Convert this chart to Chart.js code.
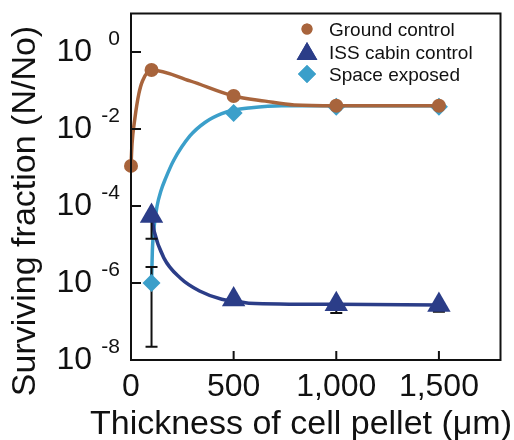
<!DOCTYPE html>
<html>
<head>
<meta charset="utf-8">
<script src="https://cdn.jsdelivr.net/npm/chart.js@4.4.1/dist/chart.umd.min.js"></script>
<style>
  html, body { margin: 0; padding: 0; background: #fff; }
  #wrap { width: 514px; height: 440px; }
</style>
</head>
<body>
<div id="wrap"><canvas id="survivalChart" width="514" height="440"></canvas></div>
<script>
// measured points
const groundX = [0, 100, 500, 1000, 1500];
const groundY = [1.1e-3, 0.34, 0.072, 0.04, 0.04];
const issX = [100, 500, 1000, 1500];
const issY = [5.5e-5, 3.7e-7, 2.8e-7, 2.7e-7];
const issErrLow = [1.4e-5, null, 1.66e-7, 1.8e-7];
const spaceX = [100, 500, 1000, 1500];
const spaceY = [1.0e-6, 0.026, 0.038, 0.038];
const spaceErrLow = [2.2e-8, null, null, null];
const spaceErrHigh = [2.6e-6, null, null, null];

// fitted curves
const groundFitX = [0, 5, 19, 38, 56, 100, 287, 500, 654, 795, 1000, 1500];
const groundFitY = [1.1e-3, 4.1e-3, 0.019, 0.081, 0.177, 0.34, 0.177, 0.072, 0.053, 0.042, 0.04, 0.04];
const issFitX = [100, 113, 160, 240, 334, 442, 513, 574, 1000, 1500];
const issFitY = [5.5e-5, 2.2e-5, 4.5e-6, 1.35e-6, 6.2e-7, 3.8e-7, 3.4e-7, 3.0e-7, 2.8e-7, 2.7e-7];
const spaceFitX = [100, 104, 113, 127, 146, 169, 207, 287, 362, 442, 503, 574, 734, 1000, 1500];
const spaceFitY = [1.0e-6, 6.8e-6, 3.0e-5, 1.0e-4, 2.5e-4, 5.3e-4, 1.5e-3, 6.6e-3, 0.015, 0.025, 0.031, 0.035, 0.04, 0.04, 0.04];

const xTicks = [0, 500, 1000, 1500];
const xTickLabels = ['0', '500', '1,000', '1,500'];
const yTicks = [1e-8, 1e-6, 1e-4, 1e-2, 1];
const yTickExps = ['-8', '-6', '-4', '-2', '0'];

const FONT = "'Liberation Sans', Arial, Helvetica, sans-serif";
const BROWN = '#a8643c';
const NAVY = '#2b3d88';
const CYAN = '#3b9fca';
const INK = '#111';

function pts(xs, ys) {
    return xs.map((x, i) => ({ x: x, y: ys[i] }));
}

function noPad(s) {
    s.paddingTop = 0; s.paddingBottom = 0;
    s.paddingLeft = 0; s.paddingRight = 0;
}

// error bars, axis frame, inward ticks, exponents, titles and legend
const decor = {
    id: 'decor',
    afterDatasetDraw(chart, args) {
        if (chart.data.datasets[args.index].label !== 'ISS fit') return;
        const ctx = chart.ctx, xs = chart.scales.x, ys = chart.scales.y;
        ctx.save();
        ctx.strokeStyle = INK;
        ctx.lineWidth = 2;
        function bar(xv, yv, lo, hi) {
            const px = xs.getPixelForValue(xv);
            const py = ys.getPixelForValue(yv);
            [lo, hi].forEach(v => {
                if (v == null) return;
                const e = ys.getPixelForValue(v);
                ctx.beginPath();
                ctx.moveTo(px, py); ctx.lineTo(px, e);
                ctx.moveTo(px - 6, e); ctx.lineTo(px + 6, e);
                ctx.stroke();
            });
        }
        issX.forEach((x, i) => bar(x, issY[i], issErrLow[i], null));
        spaceX.forEach((x, i) => bar(x, spaceY[i], spaceErrLow[i], spaceErrHigh[i]));
        ctx.restore();
    },
    afterDraw(chart) {
        const ctx = chart.ctx, a = chart.chartArea;
        const xs = chart.scales.x, ys = chart.scales.y;
        ctx.save();
        ctx.strokeStyle = INK;
        ctx.lineWidth = 2;
        ctx.strokeRect(a.left, a.top, a.right - a.left, a.bottom - a.top);
        ctx.beginPath();
        yTicks.forEach(v => {
            const p = ys.getPixelForValue(v);
            ctx.moveTo(a.left, p); ctx.lineTo(a.left + 10, p);
        });
        xTicks.forEach(v => {
            const p = xs.getPixelForValue(v);
            ctx.moveTo(p, a.bottom); ctx.lineTo(p, a.bottom - 9);
        });
        ctx.stroke();

        // exponents of the 10^n labels
        ctx.fillStyle = INK;
        ctx.font = '21px ' + FONT;
        ctx.textAlign = 'right';
        ctx.textBaseline = 'middle';
        yTicks.forEach((v, i) => {
            ctx.fillText(yTickExps[i], 120, ys.getPixelForValue(v) - 12.5);
        });

        // axis titles
        ctx.font = '34px ' + FONT;
        ctx.textBaseline = 'alphabetic';
        ctx.textAlign = 'right';
        ctx.fillText('Thickness of cell pellet (\u03bcm)', 512, 434);
        ctx.save();
        ctx.translate(35, 211);
        ctx.rotate(-Math.PI / 2);
        ctx.textAlign = 'center';
        ctx.fillText('Surviving fraction (N/No)', 0, 0);
        ctx.restore();

        // legend
        const items = [
            { text: 'Ground control', style: 'circle', r: 5.5, color: BROWN, y: 29 },
            { text: 'ISS cabin control', style: 'triangle', r: 12, color: NAVY, y: 54 },
            { text: 'Space exposed', style: 'rectRot', r: 9, color: CYAN, y: 74 }
        ];
        ctx.font = '19px ' + FONT;
        ctx.textAlign = 'left';
        items.forEach((it, i) => {
            ctx.fillStyle = it.color;
            Chart.helpers.drawPoint(ctx, { pointStyle: it.style, radius: it.r, rotation: 0, borderWidth: 0 }, 307, it.y);
            ctx.fill();
            ctx.fillStyle = INK;
            ctx.fillText(it.text, 329, [35.5, 58.5, 80.5][i]);
        });
        ctx.restore();
    }
};

new Chart(document.getElementById('survivalChart'), {
    type: 'line',
    data: {
        datasets: [
            { label: 'Ground control', data: pts(groundX, groundY), showLine: false,
              pointStyle: 'circle', pointRadius: 7, pointBackgroundColor: BROWN, pointBorderWidth: 0, order: 0 },
            { label: 'Ground fit', data: pts(groundFitX, groundFitY), borderColor: BROWN, borderWidth: 3.5,
              pointRadius: 0, cubicInterpolationMode: 'monotone', order: 1 },
            { label: 'ISS cabin control', data: pts(issX, issY), showLine: false,
              pointStyle: 'triangle', pointRadius: 13.5, pointBackgroundColor: NAVY, pointBorderWidth: 0, order: 2 },
            { label: 'Space exposed', data: pts(spaceX, spaceY), showLine: false,
              pointStyle: 'rectRot', pointRadius: 9, pointBackgroundColor: CYAN, pointBorderWidth: 0, order: 3 },
            { label: 'ISS fit', data: pts(issFitX, issFitY), borderColor: NAVY, borderWidth: 3.5,
              pointRadius: 0, cubicInterpolationMode: 'monotone', order: 4 },
            { label: 'Space fit', data: pts(spaceFitX, spaceFitY), borderColor: CYAN, borderWidth: 3.5,
              pointRadius: 0, cubicInterpolationMode: 'monotone', order: 5 }
        ]
    },
    options: {
        responsive: false,
        animation: false,
        clip: false,
        layout: { padding: { top: 13, right: 1, left: 0, bottom: 0 } },
        plugins: { legend: { display: false }, tooltip: { enabled: false } },
        scales: {
            x: {
                type: 'linear', min: 0, max: 1800,
                afterBuildTicks: s => { s.ticks = xTicks.map(v => ({ value: v })); },
                afterFit: s => { s.height = 80; noPad(s); },
                grid: { display: false, drawTicks: false },
                border: { display: false },
                ticks: { font: { family: FONT, size: 32 }, color: INK, padding: 8, maxRotation: 0, autoSkip: false,
                         callback: (v, i) => xTickLabels[i] }
            },
            y: {
                type: 'logarithmic', min: 1e-8, max: 10,
                afterBuildTicks: s => { s.ticks = yTicks.map(v => ({ value: v })); },
                afterFit: s => { s.width = 131; noPad(s); },
                grid: { display: false, drawTicks: false },
                border: { display: false },
                ticks: { font: { family: FONT, size: 32 }, color: INK, padding: 39, autoSkip: false,
                         callback: () => '10' }
            }
        }
    },
    plugins: [decor]
});
</script>
</body>
</html>
